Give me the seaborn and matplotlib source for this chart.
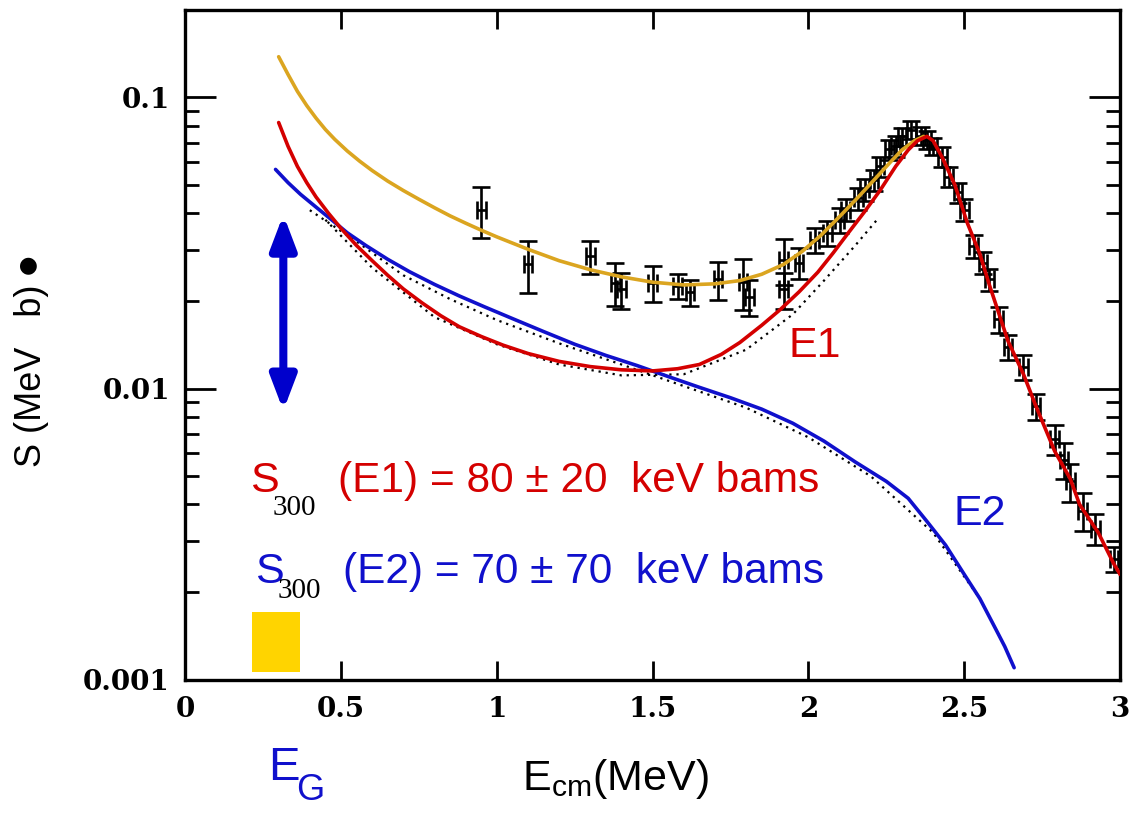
import numpy as np
import pandas as pd
import matplotlib
matplotlib.use("Agg")
import matplotlib.pyplot as plt
import matplotlib.ticker as ticker
import matplotlib.transforms as mtransforms
import seaborn as sns

# total fit (yellow)
yel_x = [0.30, 0.33, 0.36, 0.39, 0.42, 0.45, 0.48, 0.52, 0.56, 0.60, 0.65, 0.70, 0.75, 0.80, 0.85,
         0.90, 0.95, 1.00, 1.10, 1.20, 1.30, 1.40, 1.50, 1.60, 1.70, 1.78, 1.85, 1.92, 1.98, 2.04,
         2.10, 2.16, 2.21, 2.26, 2.30, 2.34, 2.37]
yel_y = [0.138, 0.120, 0.105, 0.0938, 0.0849, 0.0776, 0.0718, 0.0655, 0.0604, 0.0561, 0.0516, 0.0479, 0.0447, 0.0418, 0.0392,
         0.0370, 0.0350, 0.0332, 0.0301, 0.0275, 0.0256, 0.0242, 0.0232, 0.0227, 0.0229, 0.0235, 0.0247, 0.0267, 0.0296, 0.0336,
         0.0390, 0.0455, 0.052, 0.0595, 0.066, 0.071, 0.0735]

# E1 component (red)
red_x = [0.30, 0.33, 0.36, 0.39, 0.42, 0.46, 0.50, 0.55, 0.60, 0.65, 0.70, 0.76, 0.82, 0.88, 0.95,
         1.02, 1.10, 1.20, 1.30, 1.40, 1.50, 1.58, 1.65, 1.72, 1.78, 1.85, 1.91, 1.97, 2.03, 2.08,
         2.13, 2.18, 2.23, 2.28, 2.32, 2.35, 2.38, 2.40, 2.43, 2.47, 2.51, 2.55, 2.58, 2.64, 2.69,
         2.73, 2.79, 2.84, 2.87, 2.93, 2.98, 3.00]
red_y = [0.082, 0.068, 0.058, 0.051, 0.0455, 0.040, 0.0355, 0.031, 0.0275, 0.0245, 0.022, 0.0197, 0.0178, 0.0163, 0.0151,
         0.0141, 0.0132, 0.0124, 0.0119, 0.0116, 0.0115, 0.0117, 0.0121, 0.0131, 0.0144, 0.0165, 0.0187, 0.0215, 0.0251, 0.0293,
         0.0345, 0.0405, 0.048, 0.058, 0.066, 0.071, 0.0735, 0.071, 0.062, 0.050, 0.037, 0.029, 0.0228, 0.0146, 0.0112,
         0.0087, 0.0061, 0.0049, 0.0040, 0.0032, 0.0025, 0.0023]

# E2 component (blue)
blue_x = [0.29, 0.33, 0.37, 0.42, 0.47, 0.52, 0.58, 0.65, 0.72, 0.80, 0.88, 0.96, 1.05, 1.15, 1.25,
          1.35, 1.45, 1.55, 1.65, 1.75, 1.85, 1.95, 2.05, 2.15, 2.25, 2.32, 2.38, 2.44, 2.50, 2.55,
          2.60, 2.63, 2.66]
blue_y = [0.0566, 0.051, 0.0465, 0.042, 0.038, 0.0343, 0.031, 0.0278, 0.0252, 0.0228, 0.0208, 0.0191, 0.0174, 0.0157, 0.0142,
          0.0130, 0.0120, 0.0110, 0.0101, 0.0093, 0.0085, 0.0076, 0.0066, 0.0056, 0.0048, 0.0042, 0.0035, 0.0029, 0.0023, 0.0019,
          0.0015, 0.0013, 0.0011]

# dotted reference curves
dot1_x = [0.45, 0.60, 0.80, 1.00, 1.20, 1.40, 1.60, 1.80, 1.95, 2.05, 2.15, 2.22]
dot1_y = [0.038, 0.026, 0.0176, 0.0142, 0.0121, 0.0111, 0.0112, 0.0136, 0.0180, 0.0235, 0.031, 0.038]
dot2_x = [0.40, 0.55, 0.70, 0.85, 1.00, 1.20, 1.40, 1.60, 1.80, 2.00, 2.20, 2.40, 2.55]
dot2_y = [0.041, 0.032, 0.0245, 0.0203, 0.0172, 0.0143, 0.0121, 0.0102, 0.0086, 0.0068, 0.0050, 0.0032, 0.0019]

# measured points
pts_x = [0.95, 1.10, 1.30, 1.38, 1.40, 1.50, 1.58, 1.62, 1.71, 1.79, 1.81, 1.92, 1.92, 1.97, 2.02, 2.06,
         2.10, 2.12, 2.16, 2.18, 2.21, 2.23, 2.26, 2.28, 2.30, 2.33, 2.36, 2.38, 2.40, 2.43, 2.45, 2.48,
         2.50, 2.53, 2.56, 2.58, 2.61, 2.64, 2.69, 2.73, 2.79, 2.82, 2.84, 2.88, 2.92, 2.98]
pts_y = [0.0412, 0.0267, 0.0285, 0.0231, 0.0219, 0.0231, 0.0225, 0.0214, 0.0237, 0.0233, 0.0207, 0.0277, 0.0219, 0.0271, 0.0325, 0.0343,
         0.038, 0.0412, 0.045, 0.0483, 0.052, 0.058, 0.0663, 0.068, 0.0735, 0.0776, 0.074, 0.0717, 0.068, 0.0626, 0.0535, 0.0472,
         0.0412, 0.0308, 0.0271, 0.0237, 0.0173, 0.0139, 0.0119, 0.0087, 0.0067, 0.0057, 0.0048, 0.0038, 0.0033, 0.0026]
pts_rel = [0.20, 0.20, 0.13, 0.17, 0.14, 0.14, 0.10, 0.10, 0.15, 0.20, 0.14, 0.18, 0.14, 0.12, 0.10, 0.10,
           0.10, 0.09, 0.09, 0.09, 0.08, 0.08, 0.08, 0.08, 0.07, 0.07, 0.07, 0.07, 0.07, 0.08, 0.08, 0.08,
           0.09, 0.09, 0.09, 0.09, 0.10, 0.10, 0.10, 0.10, 0.12, 0.14, 0.15, 0.15, 0.12, 0.10]

sns.set_theme(style="ticks")
plt.rcParams["font.family"] = ["Liberation Sans", "DejaVu Sans"]
plt.rcParams["mathtext.fontset"] = "custom"
plt.rcParams["mathtext.rm"] = "Liberation Sans"
plt.rcParams["mathtext.it"] = "Liberation Sans:italic"
plt.rcParams["text.color"] = "black"
plt.rcParams["axes.labelcolor"] = "black"
plt.rcParams["xtick.color"] = "black"
plt.rcParams["ytick.color"] = "black"

RED = "#d40000"
BLUE = "#1010cc"
GOLD = "#dba520"

fig = plt.figure(figsize=(11.36, 8.17), dpi=100)
ax = fig.add_axes([0.163, 0.168, 0.823, 0.820])
ax.set_yscale("log")

curves = pd.concat([
    pd.DataFrame({"E": yel_x, "S": yel_y, "c": "tot"}),
    pd.DataFrame({"E": blue_x, "S": blue_y, "c": "E2"}),
    pd.DataFrame({"E": red_x, "S": red_y, "c": "E1"}),
])
dots = pd.concat([
    pd.DataFrame({"E": dot1_x, "S": dot1_y, "c": "d1"}),
    pd.DataFrame({"E": dot2_x, "S": dot2_y, "c": "d2"}),
])

sns.lineplot(data=dots, x="E", y="S", units="c", estimator=None, sort=False, ax=ax,
             color="black", lw=1.6, linestyle=(0, (1, 2.2)), legend=False)

yerr = np.array(pts_y) * np.array(pts_rel)
ax.errorbar(pts_x, pts_y, yerr=yerr, xerr=0.014, fmt="none", ecolor="black",
            elinewidth=1.9, capsize=6.5, capthick=1.9, zorder=3)

sns.lineplot(data=curves, x="E", y="S", hue="c", palette={"tot": GOLD, "E2": BLUE, "E1": RED},
             estimator=None, sort=False, ax=ax, lw=2.6, legend=False, zorder=4)

# yellow Gamow window
ax.fill_between([0.215, 0.37], 0.00106, 0.00171, color="#ffd400", lw=0, zorder=2)

# blue double arrow
ax.annotate("", xy=(0.315, 0.0084), xytext=(0.315, 0.0396),
            arrowprops=dict(arrowstyle="<|-|>,head_length=20,head_width=7.6",
                            mutation_scale=1, color="#0000cc", lw=5.8,
                            joinstyle="round", shrinkA=0, shrinkB=0))

ax.set_xlim(0, 3)
ax.set_ylim(0.001, 0.2)
ax.xaxis.set_major_locator(ticker.MultipleLocator(0.5))
ax.xaxis.set_major_formatter(ticker.FuncFormatter(lambda v, p: "%g" % v))
ax.yaxis.set_major_locator(ticker.LogLocator(base=10, numticks=10))
ax.yaxis.set_minor_locator(ticker.LogLocator(base=10, subs=np.arange(2, 10), numticks=20))
ax.yaxis.set_major_formatter(ticker.FuncFormatter(lambda v, p: "%g" % v))
ax.yaxis.set_minor_formatter(ticker.NullFormatter())

for s in ax.spines.values():
    s.set_linewidth(2.4)
    s.set_color("black")
ax.tick_params(which="both", direction="in", top=True, right=True, color="black")
ax.tick_params(axis="x", which="major", length=14, width=2, pad=12)
ax.tick_params(axis="y", which="major", length=22, width=2, pad=11)
ax.tick_params(axis="y", which="minor", length=10, width=2)
for lab in ax.get_xticklabels() + ax.get_yticklabels():
    lab.set_fontfamily("DejaVu Serif")
    lab.set_fontweight("bold")
    lab.set_fontsize(20)

ax.set_xlabel(r"E$_{\mathrm{cm}}$(MeV)", fontsize=31)
ax.xaxis.set_label_coords(0.460, -0.115)
ax.set_ylabel("S (MeV   b)", fontsize=26)
ax.yaxis.set_label_coords(-0.146, 0.454)
fig.text(0.024, 0.677, "\u25cf", fontsize=16, family="DejaVu Sans", color="black",
         ha="center", va="center", rotation=90)

# annotations
ax.text(1.936, 0.0128, "E1", color=RED, fontsize=31)
ax.text(2.466, 0.00341, "E2", color=BLUE, fontsize=31)

ax.text(0.209, 0.0044, "S", color=RED, fontsize=31)
ax.text(0.280, 0.00369, "300", color="black", fontsize=21, family="Liberation Serif")
ax.text(0.489, 0.0044, "(E1) = 80 \u00b1 20  keV bams", color=RED, fontsize=30.5)

ax.text(0.225, 0.00215, "S", color=BLUE, fontsize=31)
ax.text(0.296, 0.00191, "300", color="black", fontsize=21, family="Liberation Serif")
ax.text(0.505, 0.00215, "(E2) = 70 \u00b1 70  keV bams", color=BLUE, fontsize=30.5)

trans = mtransforms.blended_transform_factory(ax.transData, ax.transAxes)
ax.text(0.265, -0.150, "E", color=BLUE, fontsize=34, transform=trans, clip_on=False)
ax.text(0.355, -0.180, "G", color=BLUE, fontsize=26, transform=trans, clip_on=False)

fig.savefig("out.png", dpi=100)
